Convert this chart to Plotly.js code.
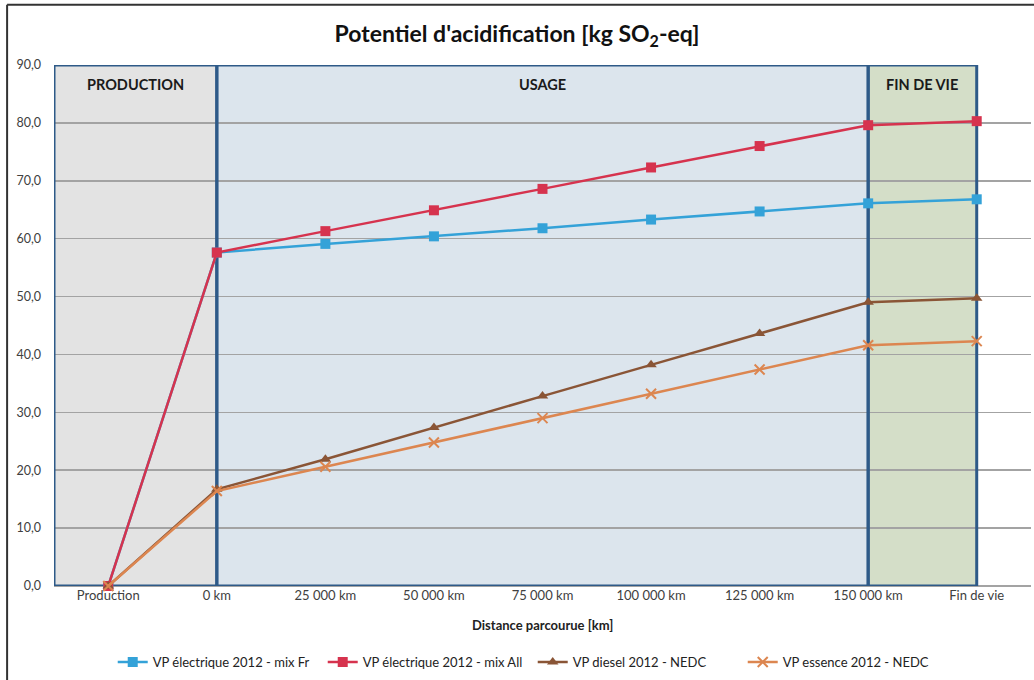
<!DOCTYPE html>
<html>
<head>
<meta charset="utf-8">
<script src="https://cdn.plot.ly/plotly-3.0.1.min.js"></script>
<style>html,body{margin:0;padding:0;background:#fff;}#chart{width:1034px;height:680px;}</style>
</head>
<body>
<div id="chart"></div>
<script>
const categories = ["Production", "0 km", "25 000 km", "50 000 km", "75 000 km", "100 000 km", "125 000 km", "150 000 km", "Fin de vie"];
const elecFr = [0, 57.6, 59.1, 60.4, 61.8, 63.3, 64.7, 66.1, 66.8];
const elecAll = [0, 57.6, 61.3, 64.9, 68.6, 72.3, 76.0, 79.6, 80.3];
const diesel = [0, 16.7, 21.9, 27.4, 32.8, 38.2, 43.6, 49.0, 49.7];
const essence = [0, 16.4, 20.6, 24.8, 29.0, 33.2, 37.4, 41.6, 42.3];
const seriesNames = ["VP électrique 2012 - mix Fr", "VP électrique 2012 - mix All", "VP diesel 2012 - NEDC", "VP essence 2012 - NEDC"];
const phases = [
  {label: "PRODUCTION", from: -0.5, to: 1, fill: "#e3e3e3"},
  {label: "USAGE", from: 1, to: 7, fill: "#dce5ed"},
  {label: "FIN DE VIE", from: 7, to: 8, fill: "#d4dec8"}
];
const yTicks = [0, 10, 20, 30, 40, 50, 60, 70, 80, 90];

const xIdx = categories.map((c, i) => i);
const font = "Lato, 'Open Sans', sans-serif";

const traces = [
  {y: elecFr, name: seriesNames[0], color: "#34a2d8", symbol: "square", size: 10},
  {y: elecAll, name: seriesNames[1], color: "#d6334e", symbol: "square", size: 10},
  {y: diesel, name: seriesNames[2], color: "#8a5536", symbol: "triangle-up", size: 10},
  {y: essence, name: seriesNames[3], color: "#dc8650", symbol: "x-thin-open", size: 10}
].map(s => ({
  x: xIdx, y: s.y, name: s.name, type: "scatter", mode: "lines+markers",
  line: {color: s.color, width: 2.5},
  marker: {color: s.color, symbol: s.symbol, size: s.size, line: {color: s.color, width: s.symbol === "x-thin-open" ? 2 : 0}},
  cliponaxis: false
}));

const shapes = [];
const annotations = [];
phases.forEach(p => {
  shapes.push({type: "rect", xref: "x", yref: "y", x0: p.from, x1: p.to, y0: 0, y1: 90,
    fillcolor: p.fill, line: {width: 0}, layer: "below"});
  shapes.push({type: "rect", xref: "x", yref: "y", x0: p.from, x1: p.to, y0: 0, y1: 90,
    fillcolor: "rgba(0,0,0,0)", line: {color: "#2e5a88", width: 3}, layer: "between"});
  annotations.push({xref: "x", yref: "paper", x: (p.from + p.to) / 2, y: 0.963, yanchor: "middle",
    text: "<b>" + p.label + "</b>", showarrow: false, font: {family: font, size: 14.5, color: "#1a1a1a"}});
});
// outer frame (left & top)
shapes.push({type: "line", xref: "paper", yref: "paper", x0: -0.048, x1: -0.048, y0: 1.1155, y1: -0.2, line: {color: "#333", width: 2}});
shapes.push({type: "line", xref: "paper", yref: "paper", x0: -0.048, x1: 1.01, y0: 1.1155, y1: 1.1155, line: {color: "#333", width: 2}});

annotations.push({xref: "paper", yref: "paper", x: 0.5, y: -0.075, yanchor: "middle", showarrow: false,
  text: "<b>Distance parcourue [km]</b>", font: {family: font, size: 13, color: "#222"}});

const layout = {
  width: 1034, height: 680,
  margin: {l: 54, r: 3, t: 65, b: 94},
  paper_bgcolor: "#ffffff", plot_bgcolor: "#ffffff",
  separators: ", ",
  title: {text: "<b>Potentiel d'acidification [kg SO<sub>2</sub>-eq]</b>", x: 0.5, xanchor: "center", y: 0.95, yanchor: "middle",
    font: {family: font, size: 23, color: "#111"}},
  xaxis: {range: [-0.5, 8.5], tickvals: xIdx, ticktext: categories, showgrid: false, zeroline: false,
    showline: false, ticks: "", tickfont: {family: font, size: 13, color: "#404040"}, fixedrange: true},
  yaxis: {range: [0, 90], tickvals: yTicks, tickformat: ".1f", showgrid: true, gridcolor: "#a3a3a3", gridwidth: 1.5,
    zeroline: true, zerolinecolor: "#a3a3a3", zerolinewidth: 1.5, showline: false, ticks: "",
    tickfont: {family: font, size: 12.5, color: "#404040"}, ticklabelstandoff: 12, fixedrange: true},
  showlegend: true,
  legend: {orientation: "h", x: 0.49, xanchor: "center", y: -0.146, yanchor: "middle",
    font: {family: font, size: 13, color: "#222"}, itemwidth: 30, entrywidth: 165, entrywidthmode: "pixels"},
  shapes: shapes, annotations: annotations
};

Plotly.newPlot("chart", traces, layout, {displayModeBar: false, staticPlot: true});
</script>
</body>
</html>
